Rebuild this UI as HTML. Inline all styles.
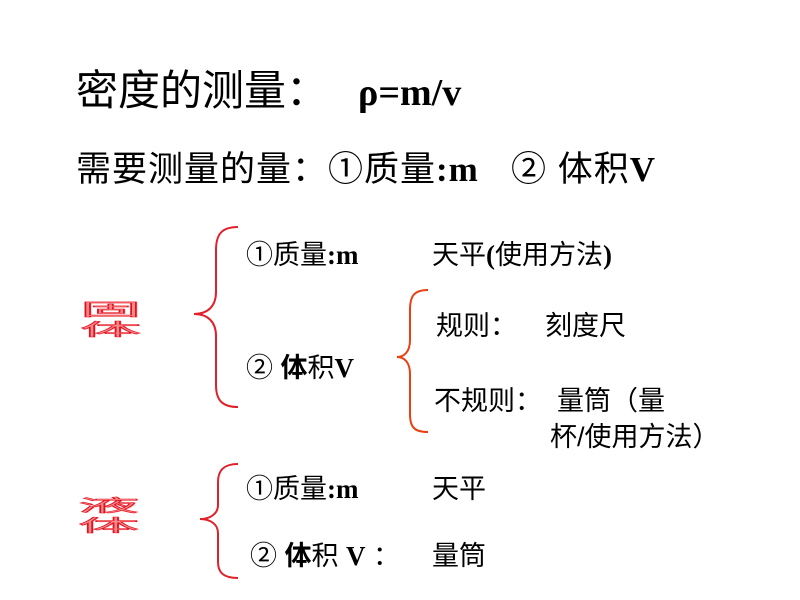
<!DOCTYPE html>
<html><head><meta charset="utf-8"><style>
body{margin:0;width:800px;height:600px;background:#fff;position:relative;overflow:hidden;font-family:"Liberation Serif","Noto Sans CJK SC",serif;color:#000}
.t{position:absolute;white-space:nowrap;line-height:1}
.s{font-family:"Liberation Sans","Noto Sans CJK SC",sans-serif}
b{font-family:"Liberation Serif",serif;font-weight:bold}
.w{position:absolute;font-family:"Noto Sans CJK SC",sans-serif;font-size:34px;transform-origin:0 0;white-space:nowrap;line-height:1;font-weight:normal;-webkit-text-stroke:1px #e01020;color:#f88;text-shadow:1px 1px 0 #fcc}
</style></head><body>
<div class="t s" style="left:76px;top:70px;font-size:42px">密度的测量：<b style="margin-left:30px;font-size:38px">ρ=m/v</b></div>
<div class="t s" style="left:76px;top:152px;font-size:35px;letter-spacing:1px">需要测量的量：①质量<b>:m</b>&nbsp;&nbsp; ② 体积<b>V</b></div>

<div class="w" style="left:80px;top:300px;transform:scale(1.8,0.5)">固</div>
<div class="w" style="left:80px;top:320px;transform:scale(1.8,0.5)">体</div>
<div class="w" style="left:78px;top:496px;transform:scale(1.8,0.5)">液</div>
<div class="w" style="left:78px;top:516px;transform:scale(1.8,0.5)">体</div>

<svg width="800" height="600" style="position:absolute;left:0;top:0" fill="none" stroke-width="2">
<path d="M238,227 C222,227 216,234 216,250 L216,292 C216,306 208,314 194,314 C208,314 216,322 216,336 L216,385 C216,400 222,407 238,407" stroke="#e0202a"/>
<path d="M428,290 C414,290 410,296 410,310 L410,340 C410,352 404,357 397,357 C404,357 410,362 410,374 L410,414 C410,427 414,432 428,432" stroke="#e84010"/>
<path d="M238,464 C224,464 218,470 218,482 L218,505 C218,514 210,519 200,519 C210,519 218,524 218,533 L218,562 C218,573 224,578 238,578" stroke="#e0202a"/>
</svg>

<div class="t s" style="left:246px;top:242px;font-size:27px">①质量<b>:m</b></div>
<div class="t s" style="left:432px;top:242px;font-size:27px">天平<b>(</b>使用方法<b>)</b></div>
<div class="t s" style="left:436px;top:313px;font-size:27px">规则：</div>
<div class="t s" style="left:545px;top:313px;font-size:27px">刻度尺</div>
<div class="t s" style="left:246px;top:355px;font-size:27px">② <span style="font-weight:bold">体</span>积<b>V</b></div>
<div class="t s" style="left:434px;top:388px;font-size:27px">不规则：</div>
<div class="t s" style="left:557px;top:388px;font-size:27px">量筒（量</div>
<div class="t s" style="left:550px;top:424px;font-size:27px">杯/使用方法）</div>
<div class="t s" style="left:246px;top:476px;font-size:27px">①质量<b>:m</b></div>
<div class="t s" style="left:432px;top:476px;font-size:27px">天平</div>
<div class="t s" style="left:250px;top:543px;font-size:27px">② <span style="font-weight:bold">体</span>积 <b>V</b> ：</div>
<div class="t s" style="left:432px;top:543px;font-size:27px">量筒</div>
</body></html>
